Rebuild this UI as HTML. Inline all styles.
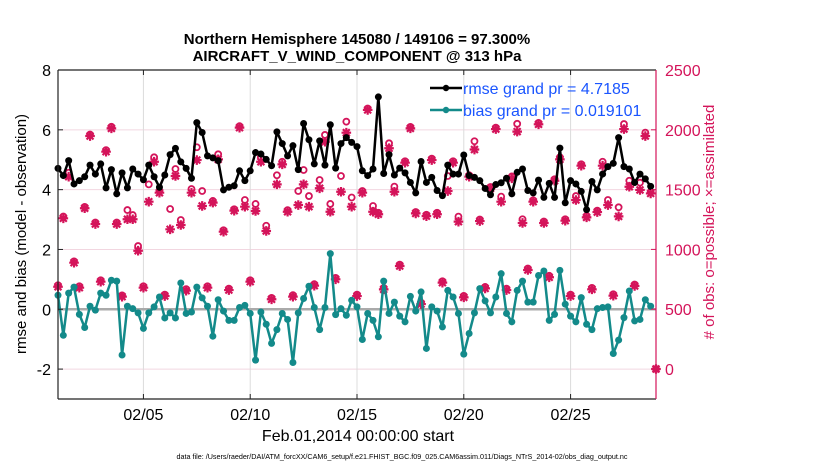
<!DOCTYPE html>
<html><head><meta charset="utf-8"><style>
html,body{margin:0;padding:0;background:#fff;}
svg{display:block;font-family:"Liberation Sans",Arial,sans-serif;}
</style></head><body>
<svg id="chart" width="830" height="470" viewBox="0 0 830 470" xmlns="http://www.w3.org/2000/svg">
<rect width="830" height="470" fill="#fff"/>
<text x="357" y="44" text-anchor="middle" font-size="15" font-weight="bold">Northern Hemisphere 145080 / 149106 = 97.300%</text>
<text x="357" y="61" text-anchor="middle" font-size="15" font-weight="bold">AIRCRAFT_V_WIND_COMPONENT @ 313 hPa</text>
<g id="grid"></g>
<g id="marks"></g>
<g id="axes"></g>
<text transform="translate(26,234) rotate(-90)" text-anchor="middle" font-size="15">rmse and bias (model - observation)</text>
<text transform="translate(714,222) rotate(-90)" text-anchor="middle" font-size="15" fill="#d4145a"># of obs: o=possible; ×=assimilated</text>
<text x="358" y="441" text-anchor="middle" font-size="16">Feb.01,2014 00:00:00 start</text>
<text x="402" y="459" text-anchor="middle" font-size="7.2">data file: /Users/raeder/DAI/ATM_forcXX/CAM6_setup/f.e21.FHIST_BGC.f09_025.CAM6assim.011/Diags_NTrS_2014-02/obs_diag_output.nc</text>
<g>
<line x1="430" y1="88" x2="462" y2="88" stroke="#000" stroke-width="2.5"/><circle cx="446" cy="88" r="3.2" fill="#000"/>
<text x="463" y="94" font-size="16" fill="#1a55ff">rmse grand pr = 4.7185</text>
<line x1="430" y1="110" x2="462" y2="110" stroke="#138a8a" stroke-width="2.5"/><circle cx="446" cy="110" r="3.2" fill="#138a8a"/>
<text x="463" y="116" font-size="16" fill="#1a55ff">bias grand pr = 0.019101</text>
</g>
</svg>
<script>
const rmse=[4.71,4.47,4.97,4.19,4.3,4.43,4.82,4.52,4.86,4.06,4.67,3.86,4.56,4.06,4.69,4.52,4.33,4.82,4.43,4.08,4.49,5.17,5.38,4.93,4.71,4.38,6.24,5.91,5.13,5.06,4.97,3.99,4.08,4.13,4.63,4.3,4.63,5.24,5.19,5.01,4.8,5.93,5.54,5.13,5.47,4.67,6.21,5.67,4.86,5.63,4.82,6.17,4.72,5.54,5.74,5.58,5.44,4.63,4.47,4.69,7.1,4.54,5.17,4.49,4.72,4.56,4.24,3.89,4.94,4.24,4.41,3.97,3.8,4.82,4.52,4.52,5.16,4.47,4.41,4.3,4.04,3.83,4.17,4.23,4.38,3.86,4.58,4.69,3.97,3.89,4.32,3.74,4.21,3.74,5.39,3.56,4.3,4.19,3.94,3.33,4.27,3.99,4.52,4.77,4.88,5.74,4.77,4.69,4.24,4.52,4.36,4.11];
const bias=[0.47,-0.87,0.54,0.74,-0.17,-0.61,0.1,-0.03,0.54,0.47,0.97,0.94,-1.53,0.1,0.02,-0.12,-0.64,-0.12,0.08,0.41,-0.29,-0.12,-0.29,0.88,-0.14,-0.09,0.74,0.38,0.1,-0.9,0.32,-0.06,-0.37,-0.37,0.06,0.13,-0.14,-1.7,-0.09,-0.5,-1.14,-0.68,-0.14,-0.34,-1.78,-0.12,0.36,0.77,0.06,-0.68,0.06,1.86,-0.18,0.02,-0.2,0.3,0.08,-1.01,-0.14,-0.37,-0.92,0.94,-0.14,0.24,-0.23,-0.42,0.43,-0.06,0.58,-1.31,0.08,-0.06,-0.59,0.63,0.41,-0.14,-1.5,-0.81,-0.12,0.69,0.28,-0.12,0.41,1.19,-0.14,-0.42,0.63,0.94,0.24,0.24,1.13,1.28,-0.37,-0.17,1.3,0.17,-0.23,-0.42,0.39,-0.5,-0.68,0.02,0.06,0.08,-1.48,-1.03,-0.28,0.61,-0.39,-0.34,0.32,0.1];
const assimilated=[688,1260,1608,889,680,1344,1948,1212,730,1817,2012,1212,605,1252,1252,989,680,1399,1733,1474,610,1168,1614,1204,655,1474,1747,1363,680,1391,1753,1148,660,1324,2018,1357,730,1321,1733,1154,583,1544,1711,1315,605,1371,1544,1357,697,1511,1900,1315,750,1482,1976,1357,610,1474,2166,1315,1294,666,1846,1482,861,1725,2012,1301,543,1278,1747,1294,722,1488,1725,1232,599,1608,1835,1237,674,1510,2006,1399,660,1594,1985,1221,828,1399,2046,1221,767,1574,1753,1240,610,1413,1700,1268,666,1312,1700,1371,613,1276,2006,1524,694,1497,1948,1468,0];
const possible=[700,1275,1641,900,692,1355,1960,1225,742,1830,2025,1225,615,1329,1287,1028,692,1544,1770,1490,622,1338,1672,1246,668,1505,1854,1488,692,1405,1795,1160,672,1336,2030,1413,742,1380,1770,1198,595,1620,1733,1328,617,1488,1664,1446,709,1580,1957,1380,762,1614,2068,1434,622,1488,2178,1363,1306,678,1887,1525,873,1737,2024,1313,555,1290,1759,1306,734,1614,1737,1274,611,1620,1904,1250,686,1522,2018,1441,672,1610,2050,1252,840,1411,2058,1233,779,1586,1770,1252,622,1446,1712,1280,678,1324,1733,1413,625,1352,2048,1574,706,1558,1976,1480,0];
const yTicks=[-2,0,2,4,6,8];
const rTicks=[0,500,1000,1500,2000,2500];
const xTickDays=[4,9,14,19,24];
const xTickLabels=["02/05","02/10","02/15","02/20","02/25"];

const L=58,R=656,T=70,B=399;
const xS=d=>L+(d/28)*(R-L);
const yS=v=>T+(8-v)*(B-T)/11;
const rS=c=>369-c*(369-T)/2500;
const NS="http://www.w3.org/2000/svg";
function mk(tag,attrs,parent){const e=document.createElementNS(NS,tag);for(const k in attrs)e.setAttribute(k,attrs[k]);parent.appendChild(e);return e;}
const grid=document.getElementById('grid'),marks=document.getElementById('marks'),axes=document.getElementById('axes');

yTicks.forEach(v=>{
  const g=mk('line',{x1:L,x2:R,y1:yS(v),y2:yS(v),stroke:'#f2d6e0','stroke-width':1},grid);
  
  
  const t=mk('text',{x:L-7,y:yS(v)+6,'text-anchor':'end','font-size':16},axes);
  t.textContent=v;
  
  
  mk('line',{x1:L,x2:L+5,y1:yS(v),y2:yS(v),stroke:'#222'},axes);
});
rTicks.forEach(c=>{
  const t=mk('text',{x:R+9,y:rS(c)+6,'font-size':16,fill:'#d4145a'},axes);
  t.textContent=c;
  
  
  mk('line',{x1:R-5,x2:R,y1:rS(c),y2:rS(c),stroke:'#d4145a'},axes);
});
xTickDays.forEach((d,i)=>{
  const g=mk('line',{x1:xS(d),x2:xS(d),y1:T,y2:B,stroke:'#dcdcdc','stroke-width':1},grid);
  
  
  const t=mk('text',{x:xS(d),y:420,'text-anchor':'middle','font-size':16},axes);
  t.textContent=xTickLabels[i];
  
  
});
const z=mk('line',{x1:L,x2:R,y1:yS(0),y2:yS(0),stroke:'#aaa','stroke-width':2.5},marks);



const MC='#d4145a';
assimilated.forEach((c,i)=>{
  const x=xS(i*0.25);
  const p=mk('circle',{cx:x,cy:rS(possible[i]),r:3,fill:'none',stroke:MC,'stroke-width':1.8},marks);
  
  
  const y=rS(c),s=4.8;
  const a=mk('path',{d:`M${x-s},${y}H${x+s}M${x},${y-s}V${y+s}M${x-s*0.72},${y-s*0.72}L${x+s*0.72},${y+s*0.72}M${x-s*0.72},${y+s*0.72}L${x+s*0.72},${y-s*0.72}`,stroke:MC,'stroke-width':2.2,fill:'none'},marks);
  
  
});

function series(vals,color,name){
  const pts=vals.map((v,i)=>xS(i*0.25)+','+yS(v)).join(' ');
  const pl=mk('polyline',{points:pts,fill:'none',stroke:color,'stroke-width':2.5,'stroke-linejoin':'round'},marks);
  
  
  vals.forEach((v,i)=>{
    const c=mk('circle',{cx:xS(i*0.25),cy:yS(v),r:3.5,fill:color},marks);
    
    
  });
}
series(bias,'#138a8a','bias');
series(rmse,'#000','rmse');

mk('line',{x1:L,x2:L,y1:T,y2:B,stroke:'#222','stroke-width':1.2},axes);
mk('line',{x1:L,x2:R,y1:B,y2:B,stroke:'#222','stroke-width':1.2},axes);
mk('line',{x1:L,x2:R,y1:T,y2:T,stroke:'#222','stroke-width':1.2},axes);
mk('line',{x1:R,x2:R,y1:T,y2:B,stroke:'#d4145a','stroke-width':1.2},axes);
xTickDays.forEach(d=>{
  mk('line',{x1:xS(d),x2:xS(d),y1:B,y2:B-5,stroke:'#222'},axes);
  mk('line',{x1:xS(d),x2:xS(d),y1:T,y2:T+5,stroke:'#222'},axes);
});
</script>
</body></html>
